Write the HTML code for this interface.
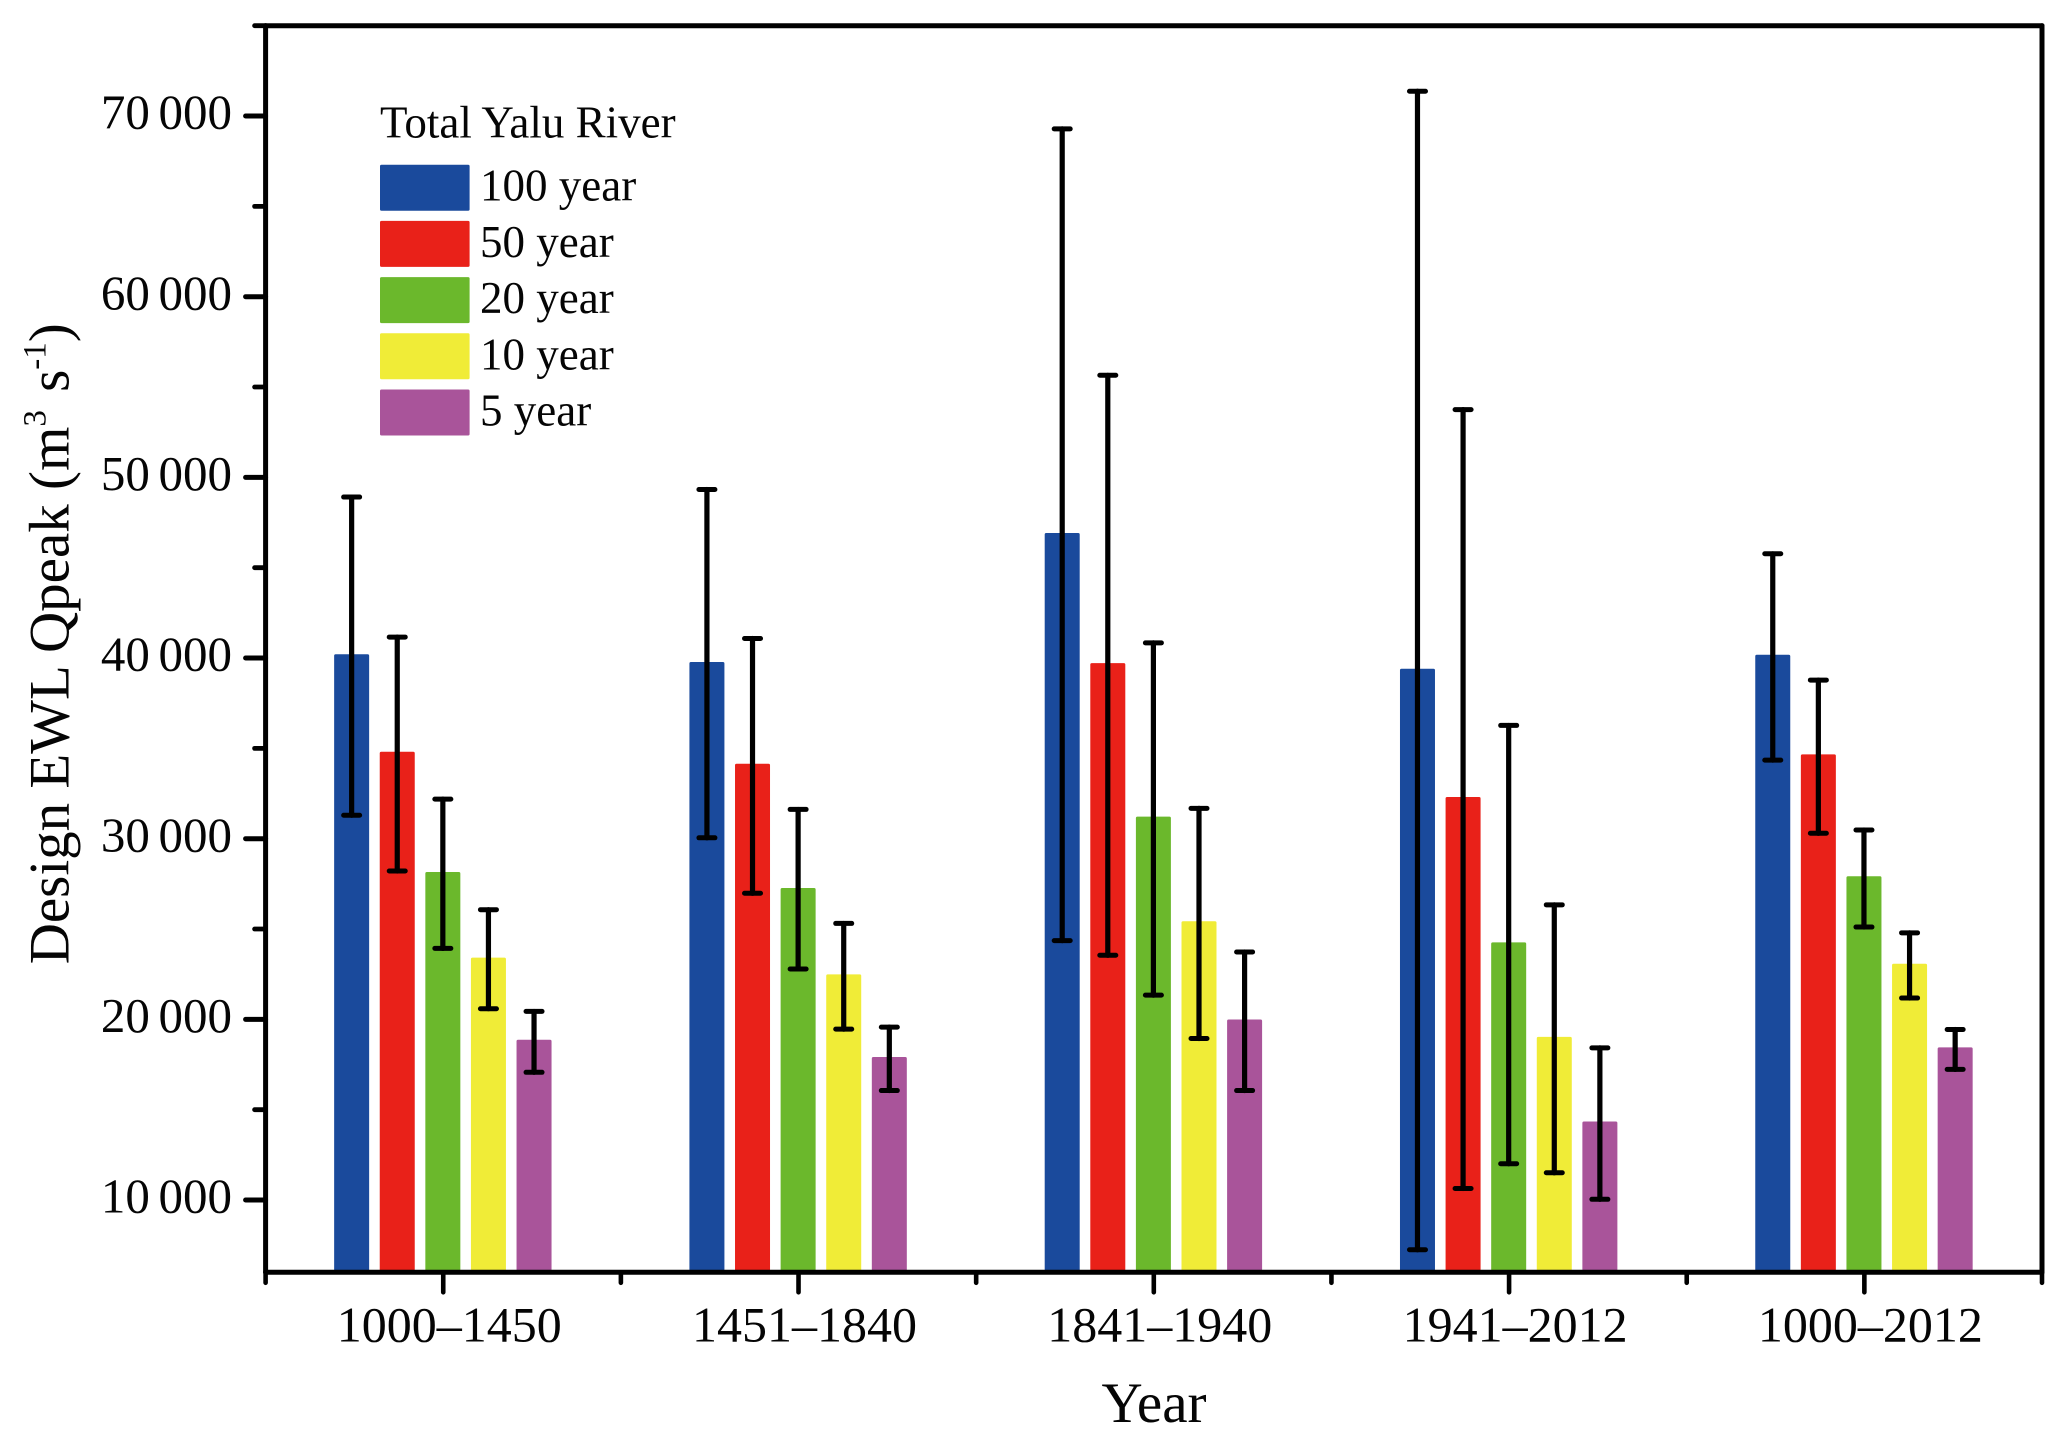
<!DOCTYPE html>
<html lang="en">
<head>
<meta charset="utf-8">
<title>Design EWL Qpeak by period</title>
<style>
  html, body { margin: 0; padding: 0; background: #fff; }
  svg { display: block; }
  text { font-family: "Liberation Serif", "Times New Roman", serif; fill: #050505; }
</style>
</head>
<body>
<svg id="chart" xmlns="http://www.w3.org/2000/svg" width="2068" height="1446" viewBox="0 0 2068 1446">
  <rect x="0" y="0" width="2068" height="1446" fill="#ffffff"/>
  <g id="bars"></g>
  <g id="errors"></g>
  <g id="axes"></g>
  <g id="legend">
    <text x="380" y="137.7" font-size="45">Total Yalu River</text>
  </g>
  <text transform="translate(68.3 964.3) rotate(-90)" font-size="57">Design EWL Qpeak (m<tspan font-size="33" dy="-23">3</tspan><tspan font-size="57" dy="23" dx="4"> s</tspan><tspan font-size="33" dy="-23">-1</tspan><tspan font-size="57" dy="23">)</tspan></text>
  <text x="1154" y="1422" font-size="57" text-anchor="middle">Year</text>
</svg>
<script>
const categories = ["1000–1450", "1451–1840", "1841–1940", "1941–2012", "1000–2012"];
const seriesNames = ["100 year", "50 year", "20 year", "10 year", "5 year"];
const seriesColors = ["#1a4a9c", "#e92119", "#6bb82c", "#f0ec37", "#a9549a"];

const values100 = [40210, 39780, 46920, 39410, 40180];
const values50 = [34810, 34150, 39720, 32310, 34670];
const values20 = [28160, 27270, 31220, 24260, 27920];
const values10 = [23420, 22490, 25430, 19030, 23080];
const values5 = [18870, 17920, 19990, 14350, 18450];

const upper100 = [48910, 49330, 69290, 71370, 45770];
const upper50 = [41160, 41080, 55650, 53750, 38780];
const upper20 = [32190, 31620, 40840, 36270, 30480];
const upper10 = [26070, 25310, 31680, 26340, 24790];
const upper5 = [20440, 19570, 23730, 18420, 19440];

const lower100 = [31300, 30050, 24360, 7250, 34350];
const lower50 = [28210, 26980, 23550, 10640, 30300];
const lower20 = [23930, 22790, 21340, 12010, 25110];
const lower10 = [20590, 19460, 18940, 11510, 21180];
const lower5 = [17070, 16060, 16060, 10040, 17230];

const yMajorTicks = [10000, 20000, 30000, 40000, 50000, 60000, 70000];
const yMinorTicks = [15000, 25000, 35000, 45000, 55000, 65000, 75000];
const yTickLabels = ["10 000", "20 000", "30 000", "40 000", "50 000", "60 000", "70 000"];

const seriesValues = [values100, values50, values20, values10, values5];
const seriesUpper = [upper100, upper50, upper20, upper10, upper5];
const seriesLower = [lower100, lower50, lower20, lower10, lower5];

const SVGNS = "http://www.w3.org/2000/svg";
const plot = { left: 265.6, right: 2042, top: 25.7, bottom: 1272.3 };
const yDomain = [6000, 75000];
const xDomain = [0, categories.length];
const barStep = 45.6;
const barWidth = 35;

function yScale(v) {
  return plot.bottom - (v - yDomain[0]) / (yDomain[1] - yDomain[0]) * (plot.bottom - plot.top);
}
function xScale(pos) {
  return plot.left + (pos - xDomain[0]) / (xDomain[1] - xDomain[0]) * (plot.right - plot.left);
}
function make(tag, parent) {
  const el = document.createElementNS(SVGNS, tag);
  parent.appendChild(el);
  return el;
}
function setLine(el, x1, y1, x2, y2, width) {
  el.setAttribute("x1", x1);
  el.setAttribute("y1", y1);
  el.setAttribute("x2", x2);
  el.setAttribute("y2", y2);
  el.setAttribute("stroke", "#000");
  el.setAttribute("stroke-width", width);
  el.setAttribute("stroke-linecap", "round");
}

const barsG = document.getElementById("bars");
const errorsG = document.getElementById("errors");
const axesG = document.getElementById("axes");
const legendG = document.getElementById("legend");

categories.forEach(function (cat, c) {
  seriesNames.forEach(function (name, s) {
    const cx = xScale(c + 0.5) + (s - 2) * barStep;
    const top = yScale(seriesValues[s][c]);

    const bar = make("rect", barsG);
    
    
    bar.setAttribute("x", cx - barWidth / 2 - 0.4);
    bar.setAttribute("y", top);
    bar.setAttribute("width", barWidth);
    bar.setAttribute("height", plot.bottom - top);
    bar.setAttribute("rx", 1.5);
    bar.setAttribute("fill", seriesColors[s]);

    const yHi = yScale(seriesUpper[s][c]);
    const yLo = yScale(seriesLower[s][c]);

    const stem = make("line", errorsG);
    
    
    setLine(stem, cx - 0.4, yHi, cx - 0.4, yLo, 5.2);

    const capHi = make("line", errorsG);
    
    
    setLine(capHi, cx - 8.4, yHi, cx + 7.6, yHi, 5);

    const capLo = make("line", errorsG);
    
    
    setLine(capLo, cx - 8.4, yLo, cx + 7.6, yLo, 5);
  });
});

const spines = [
  ["left-spine", plot.left, plot.top, plot.left, plot.bottom],
  ["right-spine", plot.right, plot.top, plot.right, plot.bottom],
  ["top-spine", plot.left, plot.top, plot.right, plot.top],
  ["bottom-spine", plot.left, plot.bottom, plot.right, plot.bottom]
];
spines.forEach(function (sp) {
  const line = make("line", axesG);
  
  
  setLine(line, sp[1], sp[2], sp[3], sp[4], 5);
});

yMajorTicks.forEach(function (v, i) {
  const y = yScale(v);
  const tick = make("line", axesG);
  
  
  setLine(tick, plot.left - 20, y, plot.left, y, 5);

  const label = make("text", axesG);
  
  
  label.setAttribute("x", 232);
  label.setAttribute("y", y + 12.7);
  label.setAttribute("font-size", 49);
  label.setAttribute("text-anchor", "end");
  label.setAttribute("word-spacing", "-3.6");
  label.textContent = yTickLabels[i];
});

yMinorTicks.forEach(function (v) {
  const y = yScale(v);
  const tick = make("line", axesG);
  
  
  setLine(tick, plot.left - 11, y, plot.left, y, 4.8);
});

categories.forEach(function (cat, c) {
  const x = xScale(c + 0.5);
  const tick = make("line", axesG);
  
  
  setLine(tick, x, plot.bottom, x, plot.bottom + 20, 4.6);

  const label = make("text", axesG);
  
  
  label.setAttribute("x", x + 6);
  label.setAttribute("y", 1341.7);
  label.setAttribute("font-size", 50);
  label.setAttribute("text-anchor", "middle");
  label.textContent = cat;
});

for (let p = 0; p <= categories.length; p++) {
  const x = xScale(p);
  const tick = make("line", axesG);
  
  
  setLine(tick, x, plot.bottom, x, plot.bottom + 10.5, 4.6);
}

seriesNames.forEach(function (name, s) {
  const swatch = make("rect", legendG);
  
  
  swatch.setAttribute("x", 380);
  swatch.setAttribute("y", 164.7 + s * 56.2);
  swatch.setAttribute("width", 89.6);
  swatch.setAttribute("height", 46);
  swatch.setAttribute("rx", 1.5);
  swatch.setAttribute("fill", seriesColors[s]);

  const label = make("text", legendG);
  
  
  label.setAttribute("x", 480);
  label.setAttribute("y", 200.7 + s * 56.2);
  label.setAttribute("font-size", 45);
  label.textContent = name;
});
</script>
</body>
</html>
